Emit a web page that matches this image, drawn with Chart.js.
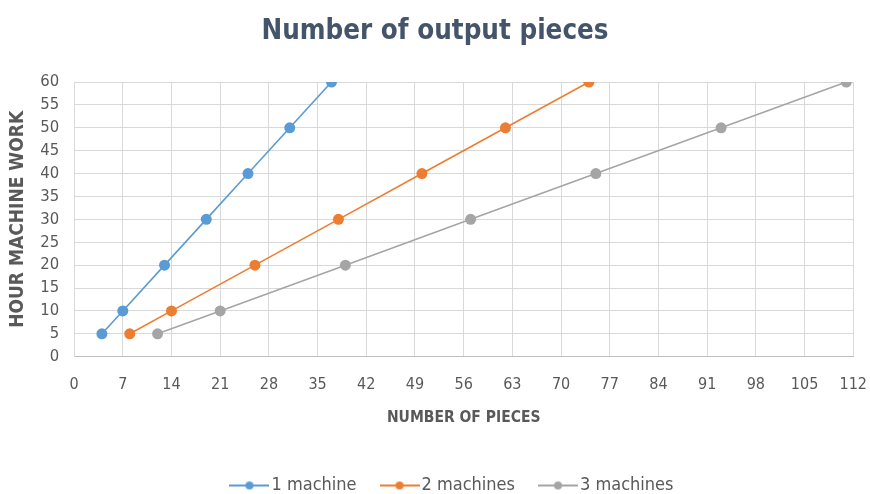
<!DOCTYPE html>
<html>
<head>
<meta charset="utf-8">
<script src="https://cdn.jsdelivr.net/npm/chart.js@4/dist/chart.umd.min.js"></script>
<style>
html,body{margin:0;padding:0;background:#fff;}
#wrap{width:870px;height:494px;position:relative;}
</style>
</head>
<body>
<div id="wrap"><canvas id="c" width="870" height="494"></canvas></div>
<script>
const seriesNames = ["1 machine", "2 machines", "3 machines"];
const hours = [5, 10, 20, 30, 40, 50, 60];
const pieces1 = [4, 7, 13, 19, 25, 31, 37];
const pieces2 = [8, 14, 26, 38, 50, 62, 74];
const pieces3 = [12, 21, 39, 57, 75, 93, 111];
const xTicks = [0, 7, 14, 21, 28, 35, 42, 49, 56, 63, 70, 77, 84, 91, 98, 105, 112];
const yTicks = [0, 5, 10, 15, 20, 25, 30, 35, 40, 45, 50, 55, 60];
const colors = ["#5B9BD5", "#ED7D31", "#A5A5A5"];

const FONT = "'DejaVu Sans Condensed','Liberation Sans Narrow','Arial Narrow',sans-serif";

function legendIcon(color){
  const cv = document.createElement('canvas');
  cv.width = 40; cv.height = 12;
  const g = cv.getContext('2d');
  g.strokeStyle = color; g.lineWidth = 2;
  g.beginPath(); g.moveTo(0,6); g.lineTo(40,6); g.stroke();
  g.fillStyle = color; g.beginPath(); g.arc(20,6,4,0,Math.PI*2); g.fill();
  return cv;
}

const allPieces = [pieces1, pieces2, pieces3];
const datasets = allPieces.map((arr, i) => ({
  label: seriesNames[i],
  data: arr.map((x, k) => ({x: x, y: hours[k]})),
  showLine: true,
  borderColor: colors[i],
  backgroundColor: colors[i],
  borderWidth: 1.6,
  pointRadius: 5.5,
  pointHoverRadius: 5.5,
  pointBorderWidth: 0,
  pointStyle: 'circle'
}));

const LEGEND_H = 47.5;
const LEGEND_SHIFT = 20;

const chart = new Chart(document.getElementById('c'), {
  type: 'scatter',
  data: { datasets },
  options: {
    responsive: false,
    animation: false,
    layout: { padding: { left: 0, right: 0, top: 6, bottom: 0 } },
    plugins: {
      title: {
        display: true,
        text: 'Number of output pieces',
        color: '#44546A',
        font: { family: FONT, size: 27.5, weight: 'bold' },
        padding: { top: 9, bottom: 34 }
      },
      legend: {
        position: 'bottom',
        labels: {
          color: '#595959',
          font: { family: FONT, size: 18 },
          boxWidth: 26,
          pointStyleWidth: 26,
          padding: 30,
          usePointStyle: true,
          generateLabels: (chart) => chart.data.datasets.map((ds, i) => ({
            text: ds.label,
            fillStyle: ds.borderColor,
            strokeStyle: ds.borderColor,
            fontColor: '#595959',
            pointStyle: legendIcon(ds.borderColor),
            lineWidth: 0,
            hidden: false,
            datasetIndex: i
          }))
        }
      },
      tooltip: { enabled: false }
    },
    scales: {
      x: {
        type: 'linear',
        min: 0, max: 112,
        afterBuildTicks: (s) => { s.ticks = xTicks.map(v => ({value: v})); },
        ticks: { color: '#595959', font: { family: FONT, size: 16 }, padding: 3, maxRotation: 0, autoSkip: false },
        grid: { color: '#D9D9D9', lineWidth: 1, drawTicks: true, tickLength: 16, tickColor: 'rgba(0,0,0,0)' },
        border: { color: '#BFBFBF', width: 1 },
        title: {
          display: true, text: 'NUMBER OF PIECES', color: '#595959',
          font: { family: FONT, size: 15.5, weight: 'bold' }, padding: { top: 11, bottom: 19 }
        }
      },
      y: {
        type: 'linear',
        min: 0, max: 60,
        afterBuildTicks: (s) => { s.ticks = yTicks.map(v => ({value: v})); },
        ticks: { color: '#595959', font: { family: FONT, size: 16.5 }, padding: 15, autoSkip: false },
        grid: { color: '#D9D9D9', lineWidth: 1, drawTicks: false },
        border: { color: '#D9D9D9', width: 1 },
        title: {
          display: true, text: 'HOUR MACHINE WORK', color: '#595959',
          font: { family: FONT, size: 19, weight: 'bold', lineHeight: 0.8 }, padding: { top: 10, bottom: 0 }
        }
      }
    }
  }
});

const origFit = chart.legend.fit;
chart.legend.fit = function(){ origFit.call(this); this.height = LEGEND_H; };
const origDraw = chart.legend.draw;
chart.legend.draw = function(){
  const ctx = this.ctx;
  ctx.save(); ctx.translate(LEGEND_SHIFT, 0);
  origDraw.apply(this, arguments);
  ctx.restore();
};
chart.update();
</script>
</body>
</html>
